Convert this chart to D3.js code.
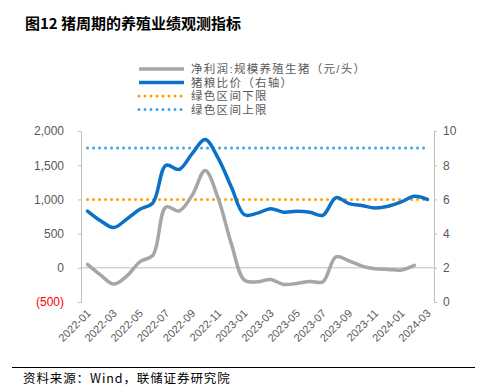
<!DOCTYPE html>
<html><head><meta charset="utf-8">
<script src="https://cdn.jsdelivr.net/npm/d3@7/dist/d3.min.js"></script>
<style>
body{margin:0;background:#fff;}
svg text{font-family:"Liberation Sans",Arial,"Noto Sans CJK SC",sans-serif;}
</style></head>
<body><svg id="c" width="483" height="390"></svg>
<script>
const months = ["2022-01","2022-02","2022-03","2022-04","2022-05","2022-06","2022-07","2022-08","2022-09","2022-10","2022-11","2022-12",
"2023-01","2023-02","2023-03","2023-04","2023-05","2023-06","2023-07","2023-08","2023-09","2023-10","2023-11","2023-12",
"2024-01","2024-02","2024-03"];
const profit = [50,-106,-238,-121,88,185,890,830,1060,1424,1010,350,-180,-204,-170,-243,-228,-199,-204,160,102,25,-15,-24,-33,35];
const ratio = [5.32,4.75,4.35,4.85,5.42,5.8,8.0,7.75,8.68,9.5,8.4,6.72,5.1,5.2,5.46,5.25,5.3,5.25,5.07,6.1,5.75,5.64,5.5,5.6,5.85,6.18,6.0];
const lowerBound = 6;
const upperBound = 9;
const leftTicks = [-500,0,500,1000,1500,2000];
const rightTicks = [0,2,4,6,8,10];
const xTickLabels = months.filter((d,i)=>i%2===0);
const legendLabels = ["净利润:规模养殖生猪（元/头）","猪粮比价（右轴）","绿色区间下限","绿色区间上限"];
const colors = {profit:"#A6A6A6", ratio:"#0A70C8", lower:"#FFA000", upper:"#3AA8E6", axis:"#BFBFBF", text:"#595959"};

const svg = d3.select("#c");
const pL = 81, pR = 434, pT = 131, pB = 302;
const x = d3.scalePoint().domain(months).range([pL, pR]).padding(0.5);
const yL = d3.scaleLinear().domain([-500,2000]).range([pB, pT]);
const yR = d3.scaleLinear().domain([0,10]).range([pB, pT]);

// title
svg.append("text").attr("x",25).attr("y",29).attr("font-size",15).attr("font-weight","bold")
  .attr("fill","#000").style("font-family","'Noto Sans CJK SC',sans-serif").text("图12 猪周期的养殖业绩观测指标");

// zero line
svg.append("line").attr("x1",pL).attr("x2",pR).attr("y1",yL(0)).attr("y2",yL(0)).attr("stroke",colors.axis).attr("stroke-width",1);

// left axis
const gl = svg.append("g").attr("transform",`translate(${pL},0)`)
  .call(d3.axisLeft(yL).tickValues(leftTicks).tickSize(3).tickPadding(14)
  .tickFormat(d=> d<0 ? "("+d3.format(",")(-d)+")" : d3.format(",")(d)));
gl.select(".domain").attr("stroke",colors.axis);
gl.selectAll(".tick line").attr("stroke",colors.axis);
gl.selectAll(".tick text").attr("font-size",12).attr("fill",d=>d<0?"#FF0000":colors.text)
  .style("font-family","'Liberation Sans',Arial,sans-serif");

// right axis
const gr = svg.append("g").attr("transform",`translate(${pR},0)`)
  .call(d3.axisRight(yR).tickValues(rightTicks).tickSize(3).tickPadding(6));
gr.select(".domain").attr("stroke",colors.axis);
gr.selectAll(".tick line").attr("stroke",colors.axis);
gr.selectAll(".tick text").attr("font-size",12).attr("fill",colors.text)
  .style("font-family","'Liberation Sans',Arial,sans-serif");

// x labels
svg.append("g").selectAll("text").data(xTickLabels).enter().append("text")
  .attr("transform",d=>`translate(${x(d)+4},${314}) rotate(-45)`)
  .attr("text-anchor","end").attr("font-size",11).attr("fill",colors.text)
  .style("font-family","'Liberation Sans',Arial,sans-serif").text(d=>d);

// bounds
const x0 = x(months[0]), x1 = x(months[months.length-1]);
svg.append("line").attr("x1",x0).attr("x2",x1).attr("y1",yR(upperBound)).attr("y2",yR(upperBound))
  .attr("stroke",colors.upper).attr("stroke-width",3).attr("stroke-linecap","round").attr("stroke-dasharray","0 6");
svg.append("line").attr("x1",x0).attr("x2",x1).attr("y1",yR(lowerBound)).attr("y2",yR(lowerBound))
  .attr("stroke",colors.lower).attr("stroke-width",3).attr("stroke-linecap","round").attr("stroke-dasharray","0 6");

// lines
const lineL = d3.line().x((d,i)=>x(months[i])).y(d=>yL(d)).curve(d3.curveCatmullRom.alpha(0.5));
const lineR = d3.line().x((d,i)=>x(months[i])).y(d=>yR(d)).curve(d3.curveCatmullRom.alpha(0.5));
svg.append("path").datum(profit).attr("d",lineL).attr("fill","none").attr("stroke",colors.profit).attr("stroke-width",3.5).attr("stroke-linejoin","round").attr("stroke-linecap","round");
svg.append("path").datum(ratio).attr("d",lineR).attr("fill","none").attr("stroke",colors.ratio).attr("stroke-width",3.5).attr("stroke-linejoin","round").attr("stroke-linecap","round");

// legend
const lg = svg.append("g");
const legendStyles = [
  {c:colors.profit, w:3.5, dash:null},
  {c:colors.ratio, w:3.5, dash:null},
  {c:colors.lower, w:3, dash:"0 6"},
  {c:colors.upper, w:3, dash:"0 6"}];
const ly = [69,82.5,96,109.5];
legendLabels.forEach((t,i)=>{
  const s = legendStyles[i];
  const l = lg.append("line").attr("x1",139).attr("x2",184).attr("y1",ly[i]).attr("y2",ly[i])
    .attr("stroke",s.c).attr("stroke-width",s.w).attr("stroke-linecap", s.dash?"round":"butt");
  if(s.dash) l.attr("stroke-dasharray",s.dash);
  lg.append("text").attr("x",191).attr("y",ly[i]+4).attr("font-size",11.5).attr("letter-spacing",1.3)
    .attr("fill",colors.text)
    .style("font-family","'Liberation Sans','Noto Sans CJK SC',sans-serif").text(t);
});

// footer
svg.append("line").attr("x1",12).attr("x2",475).attr("y1",367.5).attr("y2",367.5).attr("stroke","#000").attr("stroke-width",1);
svg.append("text").attr("x",23).attr("y",383).attr("font-size",12.5).attr("letter-spacing",0.9).attr("fill","#000")
  .style("font-family","'Noto Sans CJK SC',sans-serif").text("资料来源：Wind，联储证券研究院");
</script></body></html>
